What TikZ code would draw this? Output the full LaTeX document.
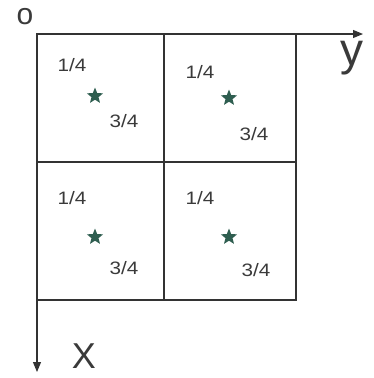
\documentclass[tikz,border=0pt]{standalone}
\usepackage{fontspec}
\setmainfont{Liberation Sans}
\usetikzlibrary{arrows.meta,shapes.geometric}
\definecolor{ln}{HTML}{333333}
\definecolor{txt}{HTML}{3A3A3A}
\definecolor{st}{HTML}{2F5E50}
\tikzset{
  frac/.style={text=txt,font=\fontsize{18}{18}\selectfont,inner sep=0pt},
  starmark/.style={star,star points=5,star point ratio=2.3,fill=st,draw=none,minimum size=17pt,inner sep=0pt},
  grid/.style={draw=ln,line width=1.1pt},
  axis/.style={draw=ln,line width=1.1pt,-{Triangle[length=10pt,width=8pt]}},
  axlabel/.style={text=txt,inner sep=0pt}
}
\begin{document}
\begin{tikzpicture}[x=1pt,y=-1pt]
\useasboundingbox (0,0) rectangle (373,378);
\coordinate (O) at (37,34);
\coordinate (Yend) at (363,34);
\coordinate (Xend) at (37,372);
\draw[grid] (37,34) rectangle (296,300);
\draw[grid] (164,34) -- (164,300);
\draw[grid] (37,162) -- (296,162);
\draw[axis] (O) -- (Yend);
\draw[axis] (O) -- (Xend);
\node[axlabel,font=\fontsize{30}{30}\selectfont] (o) at (25,17) {o};
\node[axlabel,font=\fontsize{46}{46}\selectfont] (y) at (352,58) {y};
\node[axlabel,font=\fontsize{36}{36}\selectfont] (X) at (84,356) {X};
% cell 1
\node[frac] (a1) at (72,65) {\scalebox{1.15}[1]{1/4}};
\node[starmark] (s1) at (95,96) {};
\node[frac] (b1) at (124,121) {\scalebox{1.15}[1]{3/4}};
% cell 2
\node[frac] (a2) at (200,72) {\scalebox{1.15}[1]{1/4}};
\node[starmark] (s2) at (229,98) {};
\node[frac] (b2) at (254,134) {\scalebox{1.15}[1]{3/4}};
% cell 3
\node[frac] (a3) at (72,198) {\scalebox{1.15}[1]{1/4}};
\node[starmark] (s3) at (95,237) {};
\node[frac] (b3) at (124,268) {\scalebox{1.15}[1]{3/4}};
% cell 4
\node[frac] (a4) at (200,198) {\scalebox{1.15}[1]{1/4}};
\node[starmark] (s4) at (229,237) {};
\node[frac] (b4) at (256,270) {\scalebox{1.15}[1]{3/4}};
\end{tikzpicture}
\end{document}
